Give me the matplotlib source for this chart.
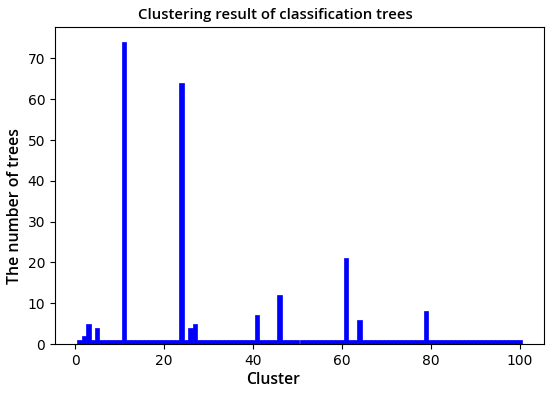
import matplotlib
matplotlib.use("Agg")
import matplotlib.pyplot as plt

clusters = list(range(1, 101))
peak_clusters = [2, 3, 5, 11, 24, 26, 27, 41, 46, 61, 64, 79]
peak_values = [2, 5, 4, 74, 64, 4, 5, 7, 12, 21, 6, 8]
counts = [1] * len(clusters)
for c, v in zip(peak_clusters, peak_values):
    counts[clusters.index(c)] = v

title = "Clustering result of classification trees"
xlabel = "Cluster"
ylabel = "The number of trees"

fam = ["Open Sans", "DejaVu Sans"]
fig = plt.figure(figsize=(5.5, 3.94), dpi=100)
ax = fig.add_axes([55/550, 1 - 344/394, (544-55)/550, (344-27)/394])
ax.bar(clusters, counts, width=1.0, color="blue", edgecolor="blue", linewidth=0.5)
ax.set_title(title, family=fam, fontsize=10.7, fontweight="semibold", pad=6, x=0.45)
ax.set_xlabel(xlabel, family=fam, fontsize=11.3, fontweight="semibold", labelpad=3, x=0.446)
ax.set_ylabel(ylabel, family=fam, fontsize=11.4, fontweight="semibold", labelpad=3, y=0.435)
ax.tick_params(labelsize=10)
fig.savefig("out.png", dpi=100)
